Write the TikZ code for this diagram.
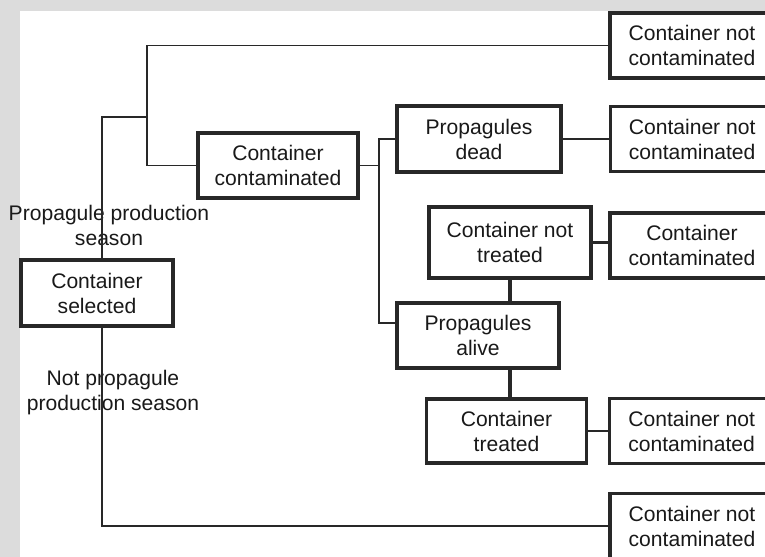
\documentclass[tikz,border=0pt]{standalone}
\usepackage{fontspec}
\setmainfont{Liberation Sans}
\usepackage{xcolor}
\usetikzlibrary{positioning, calc}

\definecolor{bggray}{RGB}{220,220,220}
\definecolor{linegray}{RGB}{40,40,40}
\definecolor{textgray}{RGB}{25,25,25}
\newcommand{\diagfont}{\fontsize{15}{17.8}\selectfont}

\begin{document}
\begin{tikzpicture}[
  x=0.025cm, y=-0.025cm,
  node distance=0.5cm,
  box/.style={rectangle, draw=linegray, line width=2.2pt, fill=white, minimum width=4cm, minimum height=1.65cm, align=center, font=\diagfont, text=textgray, inner sep=2pt},
  endbox/.style={box, minimum width=4.1cm, minimum height=1.625cm},
  lbl/.style={align=center, font=\diagfont, text=textgray, inner sep=1pt},
  link/.style={draw=linegray, line width=1.3pt},
  bold link/.style={draw=linegray, line width=2.2pt}
]
\path[use as bounding box, clip] (0,0) rectangle (765,557);
\fill[bggray] (0,0) rectangle (765,557);
\fill[white] (20,11) rectangle (765,557);

% decision nodes
\node[box, minimum width=3.8cm] (sel) at (97,293) {Container\\selected};
\node[box, minimum height=1.625cm] (cont) at (278,165.5) {Container\\contaminated};
\node[box, minimum width=4.1cm] (dead) at (479,139) {Propagules\\dead};
\node[box, minimum width=4.05cm, minimum height=1.775cm] (ntr) at (510,242.5) {Container not\\treated};
\node[box, minimum width=4.05cm, minimum height=1.625cm] (alive) at (478,335.5) {Propagules\\alive};
\node[box, minimum height=1.6cm] (trt) at (506.5,431) {Container\\treated};

% outcomes
\node[endbox] (cnc1) at (692,45.5) {Container not\\contaminated};
\node[endbox, right=1.15cm of dead] (cnc2) {Container not\\contaminated};
\node[endbox] (cc) at (692,245.5) {Container\\contaminated};
\node[endbox, right=0.5cm of trt] (cnc3) {Container not\\contaminated};
\node[endbox] (cnc4) at (692,526) {Container not\\contaminated};

% seasons
\node[lbl] (prod) at (109,225) {Propagule production\\season};
\node[lbl] (noprod) at (113,393) {Not propagule\\production season};

\coordinate (jtop) at (147,117);
\coordinate (jmid) at (379,165.5);

\draw[link] ([xshift=1.25mm]sel.north) |- (jtop);
\draw[link] (cnc1.west) -| (jtop) |- (cont.west);
\draw[link] ([xshift=1.25mm]sel.south) |- (cnc4.west);
\draw[link] (cont.east) -- (jmid);
\draw[link] (dead.west) -| (jmid) |- ([yshift=3.1mm]alive.west);
\draw[link] (dead.east) -- (cnc2.west);
\draw[bold link] (ntr.south) -- (ntr.south |- alive.north);
\draw[bold link] (alive.south -| ntr.south) -- (trt.north -| ntr.south);
\draw[bold link] (ntr.east) -- (ntr.east -| cc.west);
\draw[link] (trt.east) -- (cnc3.west);
\end{tikzpicture}
\end{document}
